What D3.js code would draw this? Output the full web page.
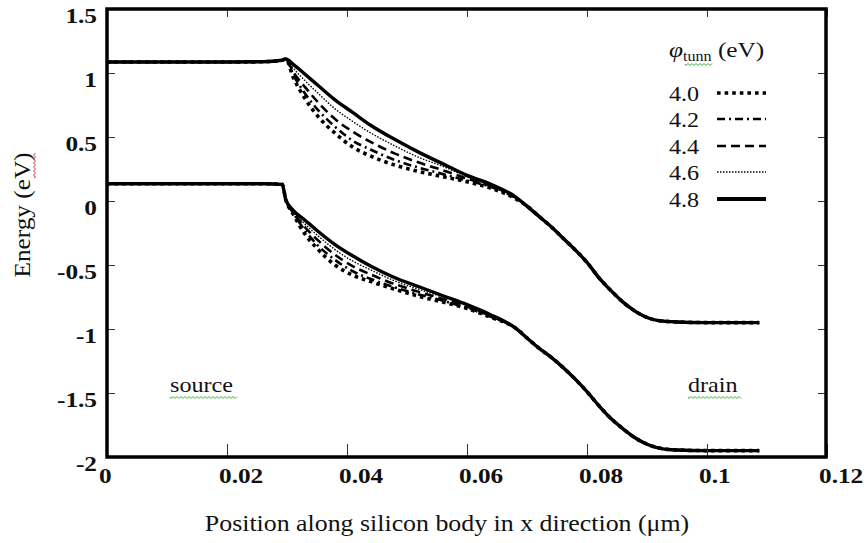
<!DOCTYPE html>
<html>
<head>
<meta charset="utf-8">
<script src="https://cdn.jsdelivr.net/npm/d3@7"></script>
<style>
  body { margin: 0; background: #fff; }
</style>
</head>
<body>
<div id="band-vis"></div>
<script>
var w = 866;
var h = 543;

// tunnelling work functions (eV) shown in the legend
var phiLabels = ['4.0', '4.2', '4.4', '4.6', '4.8'];

// position along the body (um) - source side, split region, drain side
var xHead = [0, 0.01, 0.02, 0.026, 0.0292, 0.0298];
var xMid = [0.031, 0.033, 0.035, 0.038, 0.041, 0.044, 0.048, 0.052, 0.056, 0.060, 0.064, 0.068];
var xTail = [0.070, 0.072, 0.074, 0.076, 0.078, 0.080, 0.082, 0.084, 0.086, 0.088, 0.090, 0.092, 0.095, 0.100, 0.1087];

// conduction band (upper curves)
var upperHead = [1.086, 1.086, 1.086, 1.088, 1.10, 1.11];
var upper40 = [0.97, 0.80, 0.67, 0.53, 0.42, 0.35, 0.28, 0.23, 0.19, 0.15, 0.10, 0.02];
var upper42 = [0.99, 0.84, 0.72, 0.58, 0.47, 0.40, 0.32, 0.26, 0.21, 0.16, 0.11, 0.025];
var upper44 = [1.01, 0.89, 0.78, 0.64, 0.54, 0.46, 0.37, 0.30, 0.24, 0.175, 0.115, 0.03];
var upper46 = [1.04, 0.94, 0.85, 0.72, 0.62, 0.53, 0.43, 0.34, 0.27, 0.19, 0.12, 0.03];
var upper48 = [1.07, 0.99, 0.91, 0.79, 0.69, 0.59, 0.48, 0.38, 0.29, 0.20, 0.13, 0.035];
var upperTail = [-0.04, -0.12, -0.20, -0.29, -0.38, -0.48, -0.60, -0.70, -0.79, -0.86, -0.91, -0.935, -0.945, -0.95, -0.95];

// valence band (lower curves)
var lowerHead = [0.135, 0.135, 0.135, 0.135, 0.13, 0.01];
var lower40 = [-0.10, -0.26, -0.37, -0.50, -0.58, -0.63, -0.69, -0.745, -0.79, -0.84, -0.91, -0.99];
var lower42 = [-0.09, -0.23, -0.34, -0.46, -0.55, -0.61, -0.675, -0.73, -0.78, -0.835, -0.905, -0.99];
var lower44 = [-0.085, -0.205, -0.30, -0.42, -0.51, -0.575, -0.65, -0.71, -0.765, -0.825, -0.90, -0.99];
var lower46 = [-0.078, -0.18, -0.265, -0.38, -0.47, -0.54, -0.625, -0.69, -0.75, -0.815, -0.895, -0.99];
var lower48 = [-0.07, -0.15, -0.23, -0.34, -0.43, -0.51, -0.60, -0.67, -0.74, -0.81, -0.89, -0.99];
var lowerTail = [-1.07, -1.15, -1.22, -1.30, -1.39, -1.49, -1.60, -1.70, -1.78, -1.85, -1.90, -1.93, -1.945, -1.95, -1.95];

var xTicks = [0, 0.02, 0.04, 0.06, 0.08, 0.1, 0.12];
var xTickLabels = ['0', '0.02', '0.04', '0.06', '0.08', '0.1', '0.12'];
var yTicks = [-2, -1.5, -1, -0.5, 0, 0.5, 1, 1.5];
var yTickLabels = ['-2', '-1.5', '-1', '-0.5', '0', '0.5', '1', '1.5'];

// line look for each phi, same order as phiLabels
var dashes = ['3.6,4', '8,4,2,4', '9,5', '1.5,1.5', null];
var widths = [3.6, 2.6, 2.6, 1.4, 3.4];

var uppers = [upper40, upper42, upper44, upper46, upper48];
var lowers = [lower40, lower42, lower44, lower46, lower48];
var xAll = xHead.concat(xMid, xTail);

var x = d3.scaleLinear().domain([0, 0.12]).range([107, 827]);
var y = d3.scaleLinear().domain([-2, 1.5]).range([457, 9]);

var svg = d3.select('#band-vis')
  .append('svg')
    .attr('width', w)
    .attr('height', h)
    .style('font-family', '"Liberation Serif", "Times New Roman", "DejaVu Serif", serif');

var line = d3.line()
  .x(function(d) { return x(d[0]); })
  .y(function(d) { return y(d[1]); })
  .curve(d3.curveMonotoneX);

function toPoints(head, mid, tail) {
  var vals = head.concat(mid, tail);
  return xAll.map(function(v, i) { return [v, vals[i]]; });
}

var series = [];
phiLabels.forEach(function(p, i) {
  series.push({ phi: p, i: i, pts: toPoints(upperHead, uppers[i], upperTail) });
  series.push({ phi: p, i: i, pts: toPoints(lowerHead, lowers[i], lowerTail) });
});

svg.append('g')
  .selectAll('path')
  .data(series)
  .enter()
  .append('path')
    .attr('d', function(d) { return line(d.pts); })
    .attr('fill', 'none')
    .attr('stroke', '#000')
    .attr('stroke-width', function(d) { return widths[d.i]; })
    .attr('stroke-dasharray', function(d) { return dashes[d.i]; });

// ticks, pointing inward on all sides
var xAxisB = d3.axisBottom(x).tickValues(xTicks).tickSize(-13).tickFormat('');
var xAxisT = d3.axisTop(x).tickValues(xTicks).tickSize(-8).tickFormat('');
var yAxisL = d3.axisLeft(y).tickValues(yTicks).tickSize(-8).tickFormat('');
var yAxisR = d3.axisRight(y).tickValues(yTicks).tickSize(-8).tickFormat('');

[[xAxisB, 'translate(0,457)'], [xAxisT, 'translate(0,9)'],
 [yAxisL, 'translate(107,0)'], [yAxisR, 'translate(826,0)']].forEach(function(a) {
  var g = svg.append('g').attr('transform', a[1]).call(a[0]);
  g.select('.domain').remove();
  g.selectAll('line').attr('stroke', '#333').attr('stroke-width', 1);
});

// heavy frame
svg.append('rect')
  .attr('x', x(0))
  .attr('y', y(1.5))
  .attr('width', x(0.12) - x(0) - 1)
  .attr('height', y(-2) - y(1.5))
  .attr('fill', 'none')
  .attr('stroke', '#000')
  .attr('stroke-width', 3.5);

// the source picture is a little wider than tall, so text gets stretched in x
var stretch = 1.15;
function stext(px, py, txt, size, anchor) {
  return svg.append('text')
    .attr('transform', 'translate(' + px + ',' + py + ') scale(' + stretch + ',1)')
    .attr('text-anchor', anchor || 'start')
    .attr('fill', '#111')
    .style('font-size', size + 'px')
    .text(txt);
}

// tick labels
xTicks.forEach(function(d, i) {
  stext(x(d) - 8, 483, xTickLabels[i], 22).style('font-weight', 'bold');
});
yTicks.forEach(function(d, i) {
  stext(97, y(d) + 14, yTickLabels[i], 22, 'end').style('font-weight', 'bold');
});

// axis titles
stext(447, 531, 'Position along silicon body in x direction (\u03bcm)', 22.5, 'middle');

svg.append('text')
  .attr('transform', 'translate(30,215) rotate(-90)')
  .attr('text-anchor', 'middle')
  .attr('fill', '#111')
  .attr('textLength', 125)
  .attr('lengthAdjust', 'spacingAndGlyphs')
  .style('font-size', '23px')
  .text('Energy (eV)');

// region names
stext(170, 392, 'source', 21);
stext(688, 392, 'drain', 21);

// legend
var title = svg.append('text')
  .attr('transform', 'translate(669,57) scale(' + stretch + ',1)')
  .attr('fill', '#111')
  .style('font-size', '22px');
title.append('tspan').style('font-style', 'italic').text('\u03c6');
title.append('tspan').attr('dy', 4).style('font-size', '14px').text('tunn');
title.append('tspan').attr('dy', -4).text(' (eV)');

var rowY = [93, 119, 146, 172, 199];
phiLabels.forEach(function(p, i) {
  stext(669, rowY[i] + 8, p, 21);
  svg.append('line')
    .attr('x1', 717).attr('x2', 766)
    .attr('y1', rowY[i]).attr('y2', rowY[i])
    .attr('stroke', '#000')
    .attr('stroke-width', i === 4 ? 4 : widths[i])
    .attr('stroke-dasharray', dashes[i]);
});

// spell-check squiggles from the word processor
function squiggle(x0, x1, yy, col) {
  var d = 'M' + x0 + ',' + yy;
  for (var xx = x0; xx < x1; xx += 2) {
    d += 'L' + (xx + 1) + ',' + (yy + ((xx - x0) % 4 === 0 ? 1.5 : -0.5));
  }
  svg.append('path').attr('d', d).attr('fill', 'none').attr('stroke', col).attr('stroke-width', 1);
}
squiggle(170, 238, 397, '#3bb03b');
squiggle(688, 741, 397, '#3bb03b');
squiggle(685, 712, 64, '#3bb03b');

// red one runs up the side of "eV" in the rotated label
var dv = 'M34,178';
for (var yy = 178; yy > 152; yy -= 2) {
  dv += 'L' + (34 + ((178 - yy) % 4 === 0 ? 1.5 : -0.5)) + ',' + (yy - 1);
}
svg.append('path').attr('d', dv).attr('fill', 'none').attr('stroke', '#e03535').attr('stroke-width', 1);
</script>
</body>
</html>
